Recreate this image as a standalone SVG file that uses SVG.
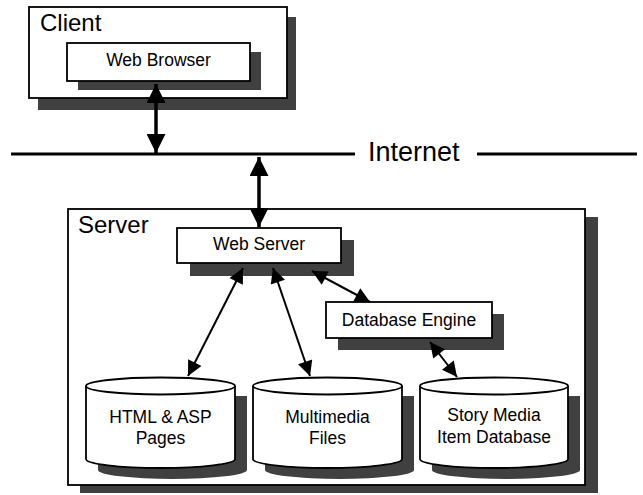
<svg xmlns="http://www.w3.org/2000/svg" width="643" height="495" viewBox="0 0 643 495">
<style>
  .box { fill: #ffffff; stroke: #000000; stroke-width: 1.8; }
  .shadow { fill: #404040; stroke: none; }
  .txt { font-family: "Liberation Sans", Arial, Helvetica, sans-serif; fill: #000000; }
  .title { font-size: 24px; }
  .label { font-size: 17.5px; text-anchor: middle; }
  .thick { stroke: #000; stroke-width: 3.5; fill: none; }
  .thin { stroke: #000; stroke-width: 2; fill: none; }
  .net { stroke: #000; stroke-width: 3; }
</style>
<defs>
  <marker id="bigHead" viewBox="0 0 20 20" refX="20" refY="10" markerWidth="20" markerHeight="19" markerUnits="userSpaceOnUse" orient="auto-start-reverse">
    <path d="M0,0 L20,10 L0,20 z" fill="#000"/>
  </marker>
  <marker id="smallHead" viewBox="0 0 20 20" refX="20" refY="10" markerWidth="17" markerHeight="15" markerUnits="userSpaceOnUse" orient="auto-start-reverse">
    <path d="M0,0 L20,10 L0,20 z" fill="#000"/>
  </marker>
</defs>
<rect width="643" height="495" fill="#ffffff"/>

<g id="client">
  <rect class="shadow" x="38" y="17" width="258" height="93"/>
  <rect class="box" x="29" y="7" width="258" height="91"/>
  <text class="txt title" x="40" y="31" font-size="23">Client</text>
</g>

<g id="web-browser">
  <rect class="shadow" x="78" y="52" width="183" height="38"/>
  <rect class="box" x="67" y="43" width="183" height="38"/>
  <text class="txt label" x="158.5" y="66">Web Browser</text>
</g>

<g id="internet">
  <line class="net" x1="11" y1="154" x2="355" y2="154"/>
  <line class="net" x1="477" y1="154" x2="637" y2="154"/>
  <text class="txt" x="368" y="161" font-size="27">Internet</text>
</g>

<g id="server">
  <rect class="shadow" x="80" y="217" width="518" height="276"/>
  <rect class="box" x="68" y="209" width="517" height="276"/>
  <text class="txt title" x="78" y="233">Server</text>
</g>

<g id="web-server">
  <rect class="shadow" x="190" y="240" width="164" height="36"/>
  <rect class="box" x="177" y="228" width="164" height="35"/>
  <text class="txt label" x="259" y="250">Web Server</text>
</g>

<g id="database-engine">
  <rect class="shadow" x="338" y="314" width="166" height="36"/>
  <rect class="box" x="326" y="302" width="166" height="36"/>
  <text class="txt label" x="409" y="326" font-size="18">Database Engine</text>
</g>

<g id="html-asp-pages">
  <path class="shadow" d="M98,396 L247,396 L247,470 A74.5,9 0 0 1 98,470 Z"/>
  <path class="box" d="M86,386 L86,459 A74.5,9 0 0 0 235,459 L235,386"/>
  <ellipse class="box" cx="160.5" cy="386" rx="74.5" ry="8.5"/>
  <text class="txt label" x="160.5" y="423" font-size="18">HTML &amp; ASP</text>
  <text class="txt label" x="160.5" y="444" font-size="18">Pages</text>
</g>

<g id="multimedia-files">
  <path class="shadow" d="M265,396 L414,396 L414,470 A74.5,9 0 0 1 265,470 Z"/>
  <path class="box" d="M253,386 L253,459 A74.5,9 0 0 0 402,459 L402,386"/>
  <ellipse class="box" cx="327.5" cy="386" rx="74.5" ry="8.5"/>
  <text class="txt label" x="327.5" y="423" font-size="18">Multimedia</text>
  <text class="txt label" x="327.5" y="444" font-size="18">Files</text>
</g>

<g id="story-media-item-database">
  <path class="shadow" d="M432,396 L580,396 L580,470 A74,9 0 0 1 432,470 Z"/>
  <path class="box" d="M420,386 L420,459 A74,9 0 0 0 568,459 L568,386"/>
  <ellipse class="box" cx="494" cy="386" rx="74" ry="8.5"/>
  <text class="txt label" x="494" y="421" font-size="18">Story Media</text>
  <text class="txt label" x="494" y="443" font-size="18">Item Database</text>
</g>

<g id="connectors">
  <line class="thick" x1="156" y1="84" x2="156" y2="153" marker-start="url(#bigHead)" marker-end="url(#bigHead)"/>
  <line class="thick" x1="259" y1="157" x2="259" y2="227" marker-start="url(#bigHead)" marker-end="url(#bigHead)"/>
  <line class="thin" x1="243" y1="268" x2="188" y2="376" marker-start="url(#smallHead)" marker-end="url(#smallHead)"/>
  <line class="thin" x1="273" y1="268" x2="310" y2="376" marker-start="url(#smallHead)" marker-end="url(#smallHead)"/>
  <line class="thin" x1="312" y1="271" x2="370" y2="302" marker-start="url(#smallHead)" marker-end="url(#smallHead)"/>
  <line class="thin" x1="430" y1="342" x2="457" y2="377" marker-start="url(#smallHead)" marker-end="url(#smallHead)"/>
</g>
</svg>
